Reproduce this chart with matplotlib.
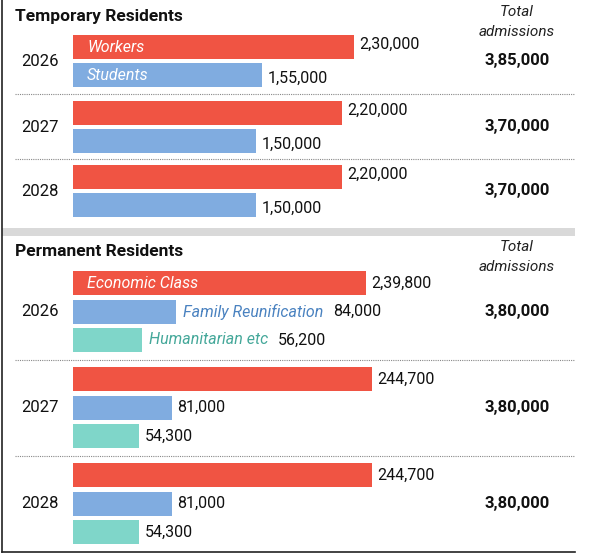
import matplotlib.pyplot as plt
from matplotlib.font_manager import fontManager

names = {f.name for f in fontManager.ttflist}
FONT = ["Liberation Sans Narrow", "DejaVu Sans"] if "Liberation Sans Narrow" in names else ["Roboto", "DejaVu Sans"]
plt.rcParams["font.family"] = FONT

years = ["2026", "2027", "2028"]
temp_names = ["Workers", "Students"]
temp_vals = [[230000, 155000], [220000, 150000], [220000, 150000]]
temp_labels = [["2,30,000", "1,55,000"], ["2,20,000", "1,50,000"], ["2,20,000", "1,50,000"]]
temp_totals = ["3,85,000", "3,70,000", "3,70,000"]
perm_names = ["Economic Class", "Family Reunification", "Humanitarian etc"]
perm_vals = [[239800, 84000, 56200], [244700, 81000, 54300], [244700, 81000, 54300]]
perm_labels = [["2,39,800", "84,000", "56,200"], ["244,700", "81,000", "54,300"],
               ["244,700", "81,000", "54,300"]]
perm_totals = ["3,80,000", "3,80,000", "3,80,000"]

colors = ["#f05443", "#80ace0", "#7fd6c9"]
W, H = 597, 556
px = 0.0012217  # pixels per admission
x0 = 73

fig = plt.figure(figsize=(W / 100, H / 100), dpi=100)
ax = fig.add_axes([0, 0, 1, 1])
ax.set_xlim(-x0 / px, (W - x0) / px)
ax.set_ylim(H, 0)
ax.axis("off")
u = 1 / px  # value units per pixel
renderer = fig.canvas.get_renderer()

def xp(p):
    return (p - x0) * u

# frame
ax.plot([xp(2), xp(2)], [0, 552], color="#222", lw=1.2)
ax.plot([xp(2), xp(575)], [552, 552], color="#222", lw=1.2)
# gray band
ax.add_patch(plt.Rectangle((xp(2), 228), 573 * u, 8, color="#d9d9d9", lw=0))

def block(title, title_y, names_, vals, labels, totals, tops, bh, gap):
    ax.text(xp(15), title_y, title, fontsize=12.5, fontweight="bold", va="center", color="#111")
    ax.text(xp(517), title_y - 5, "Total", fontsize=11, style="italic", ha="center", va="center", color="#222")
    ax.text(xp(517), title_y + 15, "admissions", fontsize=11, style="italic", ha="center", va="center", color="#222")
    for i, top in enumerate(tops):
        n = len(vals[i])
        for j in range(n):
            y = top + j * (bh + gap)
            yc = y + bh / 2
            ax.barh(yc, vals[i][j], height=bh, left=0, color=colors[j])
            vx = vals[i][j] + 5 * u
            if i == 0:
                inside = j == 0 or n == 2
                if inside:
                    ax.text(14 * u, yc, names_[j], fontsize=11.5, style="italic", va="center", color="white")
                else:
                    t = ax.text(vals[i][j] + 7 * u, yc, names_[j], fontsize=11.5, style="italic", va="center",
                                color="#4a82c0" if j == 1 else "#45a89a")
                    bb = t.get_window_extent(renderer)
                    vx = bb.x1 * (ax.get_xlim()[1] - ax.get_xlim()[0]) / W + ax.get_xlim()[0] + 10 * u
            dy = (-3 if j == 0 else 3) if n == 2 else 0
            ax.text(vx, yc + dy, labels[i][j], fontsize=11.5, va="center", color="#111")
        mid = top + (n * bh + (n - 1) * gap) / 2
        ax.text(xp(40), mid, years[i], fontsize=12, ha="center", va="center", color="#111")
        ax.text(xp(517), mid, totals[i], fontsize=12, fontweight="bold", ha="center", va="center", color="#111")

block("Temporary Residents", 17, temp_names, temp_vals, temp_labels, temp_totals,
      [35, 101, 165], 24, 4)
for y in [94, 159]:
    ax.plot([xp(15), xp(575)], [y, y], color="#888", lw=0.8, ls=(0, (1, 1)))

block("Permanent Residents", 252, perm_names, perm_vals, perm_labels, perm_totals,
      [271, 367, 463], 24, 4.5)
for y in [360, 456]:
    ax.plot([xp(15), xp(575)], [y, y], color="#888", lw=0.8, ls=(0, (1, 1)))

fig.savefig("out.png", dpi=100)
